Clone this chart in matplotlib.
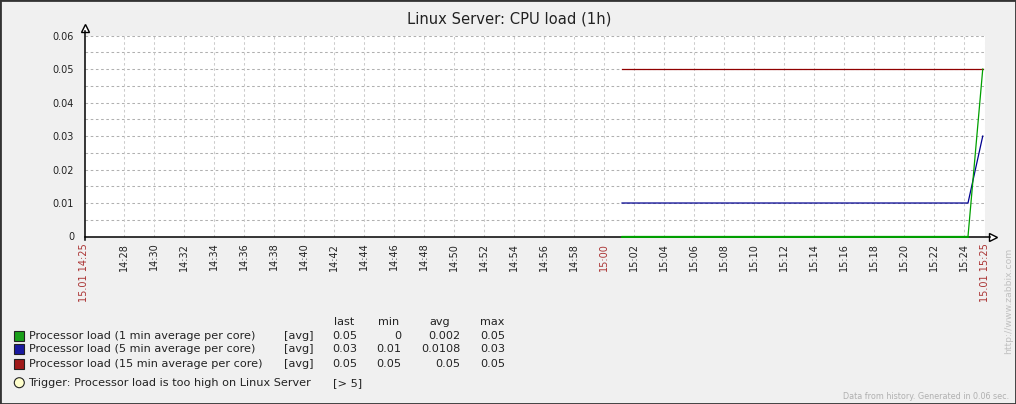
import matplotlib
matplotlib.use('Agg')
from matplotlib import pyplot as plt
from matplotlib.patches import Rectangle, Ellipse

W, H = 1016, 404

# data points (time of day, load per core)
times = ['15:01:13', '15:24:16', '15:25:15']
load_1min = [0.0, 0.0, 0.05]
load_5min = [0.01, 0.01, 0.03]
load_15min = [0.05, 0.05, 0.05]

series_names = ['Processor load (1 min average per core)',
                'Processor load (5 min average per core)',
                'Processor load (15 min average per core)']
series_colors = ['#1AA01A', '#1A1AA0', '#A01A1A']
line_colors = ['#00A000', '#000090', '#900000']
stat_last = ['0.05', '0.03', '0.05']
stat_min = ['0', '0.01', '0.05']
stat_avg = ['0.002', '0.0108', '0.05']
stat_max = ['0.05', '0.03', '0.05']

y_ticks = [0, 0.01, 0.02, 0.03, 0.04, 0.05, 0.06]
y_tick_labels = ['0', '0.01', '0.02', '0.03', '0.04', '0.05', '0.06']
x_start, x_end = '14:25:24', '15:25:24'
x_tick_labels = ['14:28', '14:30', '14:32', '14:34', '14:36', '14:38', '14:40', '14:42',
                 '14:44', '14:46', '14:48', '14:50', '14:52', '14:54', '14:56', '14:58',
                 '15:00', '15:02', '15:04', '15:06', '15:08', '15:10', '15:12', '15:14',
                 '15:16', '15:18', '15:20', '15:22', '15:24']


def to_min(t):
    parts = [int(p) for p in t.split(':')]
    sec = parts[2] if len(parts) > 2 else 0
    return (parts[0] - 14) * 60 + parts[1] + sec / 60.0


def fx(px):
    return px / W


def fy(py):
    return 1 - py / H


plt.rcParams['font.family'] = ['DejaVu Sans']
fig = plt.figure(figsize=(W / 100, H / 100), dpi=100, facecolor='#F0F0F0')
ax = fig.add_axes([fx(84.5), fy(236.5), fx(985) - fx(84.5), fy(35.6) - fy(236.5)])
ax.set_facecolor('white')

x = [to_min(t) for t in times]
for vals, col in zip([load_15min, load_5min, load_1min], line_colors[::-1]):
    ax.plot(x, vals, color=col, lw=0.9, zorder=7, clip_on=False)
# the flat part of the 1 min line sits on the axis, drawn a bit heavier there
ax.plot(x[:2], load_1min[:2], color=line_colors[0], lw=1.4, zorder=7, clip_on=False)

x0, x1 = to_min(x_start), to_min(x_end)
ax.set_xlim(x0, x1)
ax.set_ylim(0, 0.06)

# grid
for i in range(1, 13):
    ax.axhline(i * 0.005, color='#B0B0B0', lw=0.75, ls=(0, (2.5, 2.5)), zorder=1)
xt = [to_min(t) for t in x_tick_labels]
for v in xt + [x1]:
    ax.axvline(v, color='#CCCCCC', lw=0.75, ls=(0, (2.5, 2.5)), zorder=1)

for s in ax.spines.values():
    s.set_visible(False)
ax.plot([0, 0], [-0.015, 1.025], color='black', lw=1.1, transform=ax.transAxes, clip_on=False, zorder=6)
ax.plot([0, 1.006], [0, 0], color='black', lw=1.1, transform=ax.transAxes, clip_on=False, zorder=6)
ax.plot(0, 1.038, marker='^', ms=6, mfc='white', mec='black', mew=1, transform=ax.transAxes, clip_on=False)
ax.plot(1.0094, 0, marker='>', ms=6, mfc='white', mec='black', mew=1, transform=ax.transAxes, clip_on=False)

ax.set_yticks(y_ticks)
ax.set_yticklabels(y_tick_labels)
ax.tick_params(axis='y', length=0, pad=7.5, labelsize=7, labelcolor='#222222')

ax.set_xticks([x0] + xt + [x1])
ax.set_xticklabels(['15.01 14:25'] + x_tick_labels + ['15.01 15:25'], rotation=90, va='top')
ax.tick_params(axis='x', length=0, pad=4.5, labelsize=7, labelcolor='#222222')
for lbl in ax.get_xticklabels():
    if lbl.get_text() in ('15.01 14:25', '15:00', '15.01 15:25'):
        lbl.set_color('#AA3333')

fig.text(fx(509), fy(19), 'Linux Server: CPU load (1h)', ha='center', va='center', fontsize=10.6, color='#222222')

# legend
txt = dict(fontsize=8.1, color='#222222', va='center')
for h, cx in zip(['last', 'min', 'avg', 'max'], [344, 389, 440, 492]):
    fig.text(fx(cx), fy(321.7), h, ha='center', **txt)
rows_y = [335.7, 349.3, 363.7]
for i, ry in enumerate(rows_y):
    fig.add_artist(Rectangle((fx(14), fy(ry + 5)), 10 / W, 10 / H, transform=fig.transFigure,
                             facecolor=series_colors[i], edgecolor='#222222', lw=0.8))
    fig.text(fx(29.3), fy(ry), series_names[i], ha='left', **txt)
    fig.text(fx(284), fy(ry), '[avg]', ha='left', **txt)
    fig.text(fx(357), fy(ry), stat_last[i], ha='right', **txt)
    fig.text(fx(401), fy(ry), stat_min[i], ha='right', **txt)
    fig.text(fx(460), fy(ry), stat_avg[i], ha='right', **txt)
    fig.text(fx(505), fy(ry), stat_max[i], ha='right', **txt)

fig.add_artist(Ellipse((fx(19.3), fy(382.7)), 10 / W, 10 / H, transform=fig.transFigure,
                       facecolor='#FFFFCC', edgecolor='#222222', lw=0.8))
fig.text(fx(28), fy(382.7), 'Trigger: Processor load is too high on Linux Server', ha='left', **txt)
fig.text(fx(333), fy(382.7), '[> 5]', ha='left', **txt)

fig.text(fx(1009), fy(396.5), 'Data from history. Generated in 0.06 sec.', ha='right', va='center',
         fontsize=5.8, color='#B0B0B0')
fig.text(fx(1009), fy(301), 'http://www.zabbix.com', ha='center', va='center', rotation=90,
         fontsize=6.7, color='#C0C0C0')

fig.add_artist(Rectangle((0, 0), 1, 1, transform=fig.transFigure, fill=False, edgecolor='#333333', lw=2))

fig.savefig('out.png', dpi=100, facecolor=fig.get_facecolor())
